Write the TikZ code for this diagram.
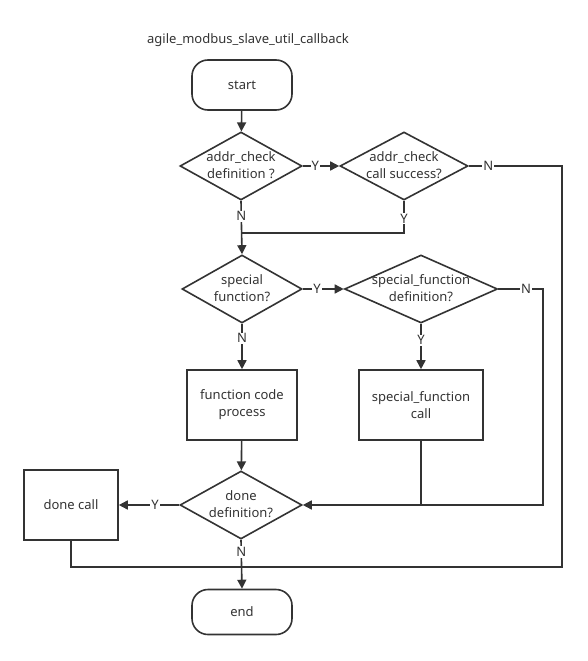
\documentclass[tikz,border=0pt]{standalone}
\usepackage{fontspec}
\setmainfont{Noto Sans}
\usetikzlibrary{arrows.meta,shapes.geometric,positioning}
\definecolor{ink}{HTML}{333333}
% two-line text that does not resize its diamond
\newcommand\dlabel[2]{\raisebox{-8pt}{\smash{\makebox[0pt]{\begin{tabular}{@{}c@{}}#1\\#2\end{tabular}}}}}

\begin{document}
\begin{tikzpicture}[x=1pt,y=-1pt,->,>={Triangle[length=9pt,width=9pt]},
                    line width=1.6pt,draw=ink,text=ink,
                    font=\fontsize{13}{17}\selectfont]
  \tikzstyle{term}=[draw=ink,shape=rectangle,rounded corners=16pt,
                    minimum width=100pt,inner sep=0pt]
  \tikzstyle{decision}=[draw=ink,shape=diamond,inner sep=0pt,
                    minimum width=122pt,minimum height=68pt]
  \tikzstyle{process}=[draw=ink,shape=rectangle,align=center,inner sep=0pt,
                    minimum height=70pt]
  \tikzstyle{yn}=[fill=white,inner sep=1pt,text=ink]
  \useasboundingbox (0,0) rectangle (588,661);

  \node (title) at (248,40) {agile\_modbus\_slave\_util\_callback};
  \node[term,minimum height=50pt] (start) at (242,85) {start};
  \node[decision] (chk)  at (241,166) {\dlabel{addr\_check}{definition ?}};
  \node[decision,minimum width=128pt] (call) at (404,166) {\dlabel{addr\_check}{call success?}};
  \node[decision,minimum width=120pt] (spec) at (242,289) {\dlabel{special}{function?}};
  \node[decision,minimum width=153pt] (sdef) at (421,289) {\dlabel{special\_function}{definition?}};
  \node[process,minimum width=110pt] (proc)  at (242,405) {function code\\process};
  \node[process,minimum width=124pt] (scall) at (421,405) {special\_function\\call};
  \node[decision] (done) at (241,505) {\dlabel{done}{definition?}};
  \node[process,minimum width=94pt] (dcall) at (71,505) {done call};
  \node[term,minimum height=45pt] (end) at (242,612) {end};

  \coordinate (join) at (242,233);
  \coordinate (merge) at (242,567);
  \coordinate (cR) at (562,166);
  \coordinate (sR) at (543,289);

  \draw (start) -- (chk);
  \draw (chk.east) -- node[yn,pos=0.34] {Y} (call.west);
  \draw[-] (call.east) -- node[yn,pos=0.21] {N} (cR) |- (merge);
  \draw (chk.south) -- node[yn,pos=0.29] {N} (spec.north);
  \draw[-] (call.south) -- node[yn,pos=0.55] {Y} (call.south |- join) -- (join);
  \draw (spec.east) -- node[yn,pos=0.35] {Y} (sdef.west);
  \draw (sdef.east) -- node[yn,pos=0.62] {N} (sR) |- (done.east);
  \draw (spec.south) -- node[yn,pos=0.32] {N} (proc.north);
  \draw (sdef.south) -- node[yn,pos=0.36] {Y} (scall.north);
  \draw (proc) -- (done);
  \draw[-] (scall.south) -- (scall.south |- done.east);
  \draw (done.west) -- node[yn,pos=0.4] {Y} (dcall.east);
  \draw[-] (dcall.south) |- (merge);
  \draw (done.south) -- node[yn,pos=0.25] {N} (end.north);
\end{tikzpicture}
\end{document}
